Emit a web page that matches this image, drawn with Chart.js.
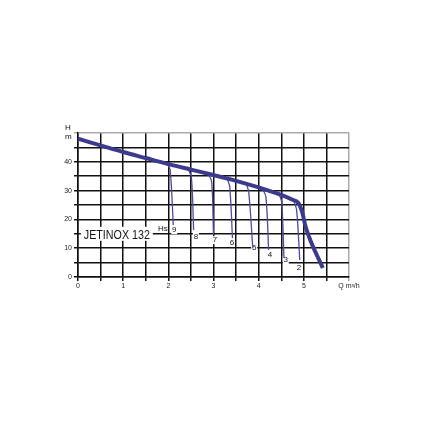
<!DOCTYPE html>
<html><head><meta charset="utf-8">
<script src="https://cdn.jsdelivr.net/npm/chart.js@4/dist/chart.umd.min.js"></script>
<style>html,body{margin:0;padding:0;background:#fff}#wrap{width:423px;height:423px}</style>
</head><body><div id="wrap"><canvas id="c" width="423" height="423"></canvas></div>
<script>
// Main pump curve Q (m3/h) vs H (m)
const mainQ = [0, 0.5, 1, 1.5, 2, 2.5, 3, 3.5, 4, 4.5, 4.75, 4.88, 4.96, 5.04, 5.42];
const mainH = [48, 45.7, 43.4, 41.3, 39.2, 37.3, 35.4, 33.4, 31.1, 28.5, 26.8, 25.7, 22.8, 17.4, 3.1];
// Suction-height (Hs) curves
const hsNames = ['9','8','7','6','5','4','3','2'];
const hs9Q = [1.98, 2.04, 2.11], hs9H = [39.2, 37.2, 18.0];
const hs8Q = [2.44, 2.51, 2.56], hs8H = [37.4, 34.7, 16.3];
const hs7Q = [2.89, 2.96, 3.00], hs7H = [35.7, 33.0, 14.6];
const hs6Q = [3.31, 3.36, 3.42], hs6H = [33.9, 31.3, 13.5];
const hs5Q = [3.73, 3.78, 3.87], hs5H = [32.1, 29.5, 10.0];
const hs4Q = [4.08, 4.16, 4.22], hs4H = [30.8, 27.8, 9.4];
const hs3Q = [4.45, 4.51, 4.56], hs3H = [28.8, 26.0, 6.6];
const hs2Q = [4.78, 4.84, 4.91], hs2H = [26.3, 23.3, 5.9];
// label positions for the Hs numbers (data coords)
const hsLabQ = [2.13, 2.61, 3.03, 3.41, 3.90, 4.25, 4.60, 4.89];
const hsLabH = [16.3, 13.9, 12.8, 11.8, 10.0, 7.6, 5.9, 3.1];
const xTickLabels = ['0','1','2','3','4','5','Q m³/h'];
const yTickLabels = ['0','10','20','30','40'];
const modelName = 'JETINOX 132';

const pts = (q,h) => q.map((v,i)=>({x:v,y:h[i]}));
const hsSets = [[hs9Q,hs9H],[hs8Q,hs8H],[hs7Q,hs7H],[hs6Q,hs6H],[hs5Q,hs5H],[hs4Q,hs4H],[hs3Q,hs3H],[hs2Q,hs2H]];
const datasets = [{
  data: pts(mainQ, mainH), borderColor:'#3c3a8d', borderWidth:4, pointRadius:0,
  cubicInterpolationMode:'monotone', order:0
}];
hsSets.forEach(([q,h],i)=>datasets.push({
  label:'Hs '+hsNames[i], data: pts(q,h), borderColor:'#4d4b9e', borderWidth:1.3,
  pointRadius:0, tension:0.35, order:1
}));

const textPlugin = {
  id:'texts',
  beforeDatasetsDraw(chart){
    const ctx = chart.ctx, xs = chart.scales.x, ys = chart.scales.y;
    ctx.save();
    // model label (condensed)
    ctx.font = '13.5px "Liberation Sans", Arial';
    const mx = xs.getPixelForValue(0.86), my = ys.getPixelForValue(15);
    const w = ctx.measureText(modelName).width, target = 66, sx = target / w;
    ctx.fillStyle = '#fff';
    ctx.fillRect(mx - target/2 - 3, my - 7, target + 6, 14);
    ctx.fillStyle = '#111'; ctx.textAlign='center'; ctx.textBaseline='middle';
    ctx.save(); ctx.translate(mx, my + 1); ctx.scale(sx, 1);
    ctx.fillText(modelName, 0, 0); ctx.restore();
    // Hs text
    ctx.font = '8px "Liberation Sans", Arial';
    ctx.fillText('Hs', xs.getPixelForValue(1.88), ys.getPixelForValue(16.8));
    // number labels
    hsNames.forEach((n,i)=>{
      const px = xs.getPixelForValue(hsLabQ[i]), py = ys.getPixelForValue(hsLabH[i]);
      ctx.fillStyle='#fff'; ctx.fillRect(px-3, py-4, 6, 8);
      ctx.fillStyle='#111'; ctx.fillText(n, px, py);
    });
    // H / m axis title
    ctx.font = '8px "Liberation Sans", Arial'; ctx.textAlign='left';
    ctx.fillText('H', 65, 128); ctx.fillText('m', 65, 137);
    ctx.restore();
  }
};

new Chart(document.getElementById('c'), {
  type:'line',
  data:{ datasets },
  plugins:[textPlugin],
  options:{
    responsive:false, animation:false,
    layout:{ padding:{ left:0, top:133, right:74, bottom:0 } },
    plugins:{ legend:{display:false}, tooltip:{enabled:false} },
    scales:{
      x:{ type:'linear', min:0, max:6,
        afterFit(s){ s.height = 146; },
        afterBuildTicks(s){ const t=[]; for(let v=0; v<=6.001; v+=0.5) t.push({value:Math.round(v*2)/2}); s.ticks=t; },
        ticks:{ autoSkip:false, maxRotation:0, padding:1, color:'#222',
          font:{ size:7, family:'"Liberation Sans", Arial' },
          callback:(v)=> Number.isInteger(v) ? xTickLabels[v] : '' },
        grid:{ color:(c)=> c.tick && c.tick.value===6 ? '#aaa' : '#111', lineWidth:1.5, tickLength:4 },
        border:{ color:'#111', width:1.5 }
      },
      y:{ min:0, max:50,
        afterFit(s){ s.width = 78; },
        afterBuildTicks(s){ const t=[]; for(let v=0; v<=50; v+=5) t.push({value:v}); s.ticks=t; },
        ticks:{ autoSkip:false, padding:2, color:'#222',
          font:{ size:7, family:'"Liberation Sans", Arial' },
          callback:(v)=> (v%10===0 && v<50) ? yTickLabels[v/10] : '' },
        grid:{ color:(c)=> c.tick && c.tick.value===50 ? '#aaa' : '#111', lineWidth:1.5, tickLength:4 },
        border:{ color:'#111', width:1.5 }
      }
    }
  }
});
</script></body></html>
